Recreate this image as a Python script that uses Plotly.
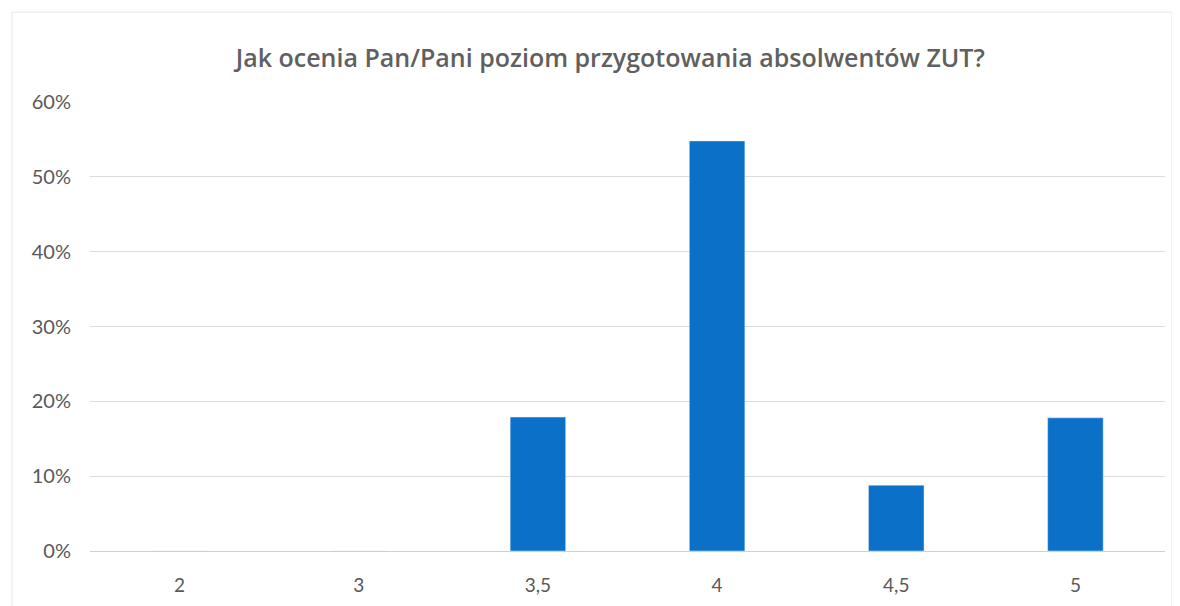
import plotly.graph_objects as go

oceny = ["2", "3", "3,5", "4", "4,5", "5"]
odsetki = [0.0, 0.0, 0.179, 0.548, 0.088, 0.178]
tytul = "Jak ocenia Pan/Pani poziom przygotowania absolwentów ZUT?"

fig = go.Figure(go.Bar(x=oceny, y=odsetki, marker_color="#0A70C8", width=0.31))

# strona ma 8 px marginesu body, stąd przesunięte marginesy
fig.update_layout(
    width=1180, height=606,
    margin=dict(l=82, r=23, t=94, b=63),
    paper_bgcolor="white", plot_bgcolor="white",
    font=dict(family="Lato", color="#595959"),
    title=dict(text=tytul, xref="paper", x=0.484, xanchor="center", y=0.917, yanchor="middle",
               font=dict(size=25, color="#606060", family="Open Sans", weight=600)),
    showlegend=False,
    shapes=[dict(type="rect", xref="paper", yref="paper", x0=-0.0726, x1=1.0065,
                 y0=-0.2, y1=1.2, line=dict(color="#e8e8e8", width=1))],
)
fig.update_yaxes(range=[0, 0.6], dtick=0.1, tickformat=".0%", showgrid=True,
                 gridcolor="#dcdcdc", gridwidth=1, zeroline=False,
                 tickfont=dict(size=20, color="#595959"), ticklabelstandoff=18)
fig.update_xaxes(showline=True, linecolor="#d0d0d0", linewidth=1,
                 tickfont=dict(size=19, color="#595959"), ticklabelstandoff=17)

fig.write_html("out.html")
